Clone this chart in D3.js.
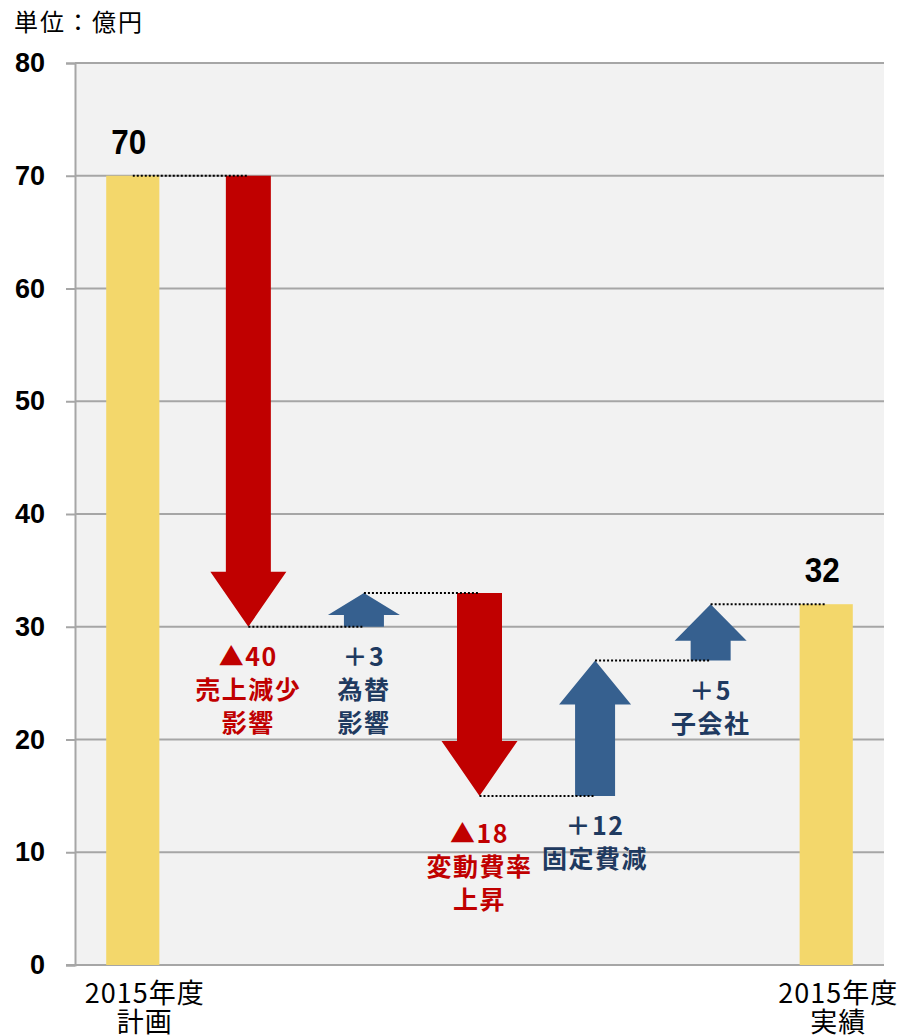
<!DOCTYPE html>
<html><head><meta charset="utf-8">
<script src="https://cdn.jsdelivr.net/npm/d3@7/dist/d3.min.js"></script>
<style>body{margin:0;background:#fff}</style>
</head><body>
<svg id="c" width="900" height="1036"></svg>
<script>
const categories = ["plan", "sales", "fx", "varcost", "fixcost", "subsid", "actual"];
const axisLabels = [["2015年度","計画"], [], [], [], [], [], ["2015年度","実績"]];
const startValue = 70;
const deltas = [null, -40, 3, -18, 12, 5, null];
const endValue = 32;
const deltaLabels = [[], ["▲40","売上減少","影響"], ["＋3","為替","影響"], ["▲18","変動費率","上昇"], ["＋12","固定費減"], ["＋5","子会社"], []];
const yTicks = [0,10,20,30,40,50,60,70,80];
const unitLabel = "単位：億円";

const svg = d3.select("#c");
const L = 75, R = 884, T = 63, B = 965;
const x = d3.scaleBand().domain(categories).range([L, R]);
const y = d3.scaleLinear().domain([0, 80]).range([B, T]);
const jp = "'Noto Sans CJK JP','Noto Sans',sans-serif";
const num = "'Liberation Sans',Arial,sans-serif";

svg.append("rect").attr("x", L).attr("y", T).attr("width", R - L).attr("height", B - T).attr("fill", "#f2f2f2");

// grid
svg.append("g").selectAll("line").data(yTicks.filter(d => d > 0)).join("line")
  .attr("x1", L).attr("x2", R).attr("y1", d => y(d)).attr("y2", d => y(d))
  .attr("stroke", "#a6a6a6").attr("stroke-width", 2);

// y axis
const ya = svg.append("g").attr("transform", `translate(${L},0)`)
  .call(d3.axisLeft(y).tickValues(yTicks).tickSize(9).tickPadding(21));
ya.select(".domain").attr("stroke", "#a6a6a6").attr("stroke-width", 2);
ya.selectAll(".tick line").attr("stroke", "#a6a6a6").attr("stroke-width", 2);
ya.selectAll("text").attr("font-family", num).attr("font-weight", "bold").attr("font-size", 27).attr("fill", "#000");
// bottom axis line
svg.append("line").attr("x1", L - 9).attr("x2", R).attr("y1", B).attr("y2", B).attr("stroke", "#a6a6a6").attr("stroke-width", 2);

// compute levels
const levels = [];
let cur = startValue;
categories.forEach((c, i) => {
  if (i === 0) { levels.push({c, from: 0, to: startValue, type: "bar"}); }
  else if (i === categories.length - 1) { levels.push({c, from: 0, to: endValue, type: "bar"}); }
  else { levels.push({c, from: cur, to: cur + deltas[i], type: "arrow", d: deltas[i]}); cur += deltas[i]; }
});

const barW = x.bandwidth() * 0.46;
levels.filter(d => d.type === "bar").forEach(d => {
  const cx = x(d.c) + x.bandwidth() / 2;
  svg.append("rect").attr("x", cx - barW / 2).attr("y", y(d.to)).attr("width", barW).attr("height", y(0) - y(d.to)).attr("fill", "#f3d76b");
  const tx = cx - 4;
  svg.append("text").attr("x", tx).attr("y", y(d.to) - 22).attr("text-anchor", "middle")
    .attr("font-family", num).attr("font-weight", "bold").attr("font-size", 35).attr("fill", "#000")
    .attr("transform", `translate(${tx},0) scale(0.9,1) translate(${-tx},0)`)
    .text(d.to);
});

// arrows
levels.filter(d => d.type === "arrow").forEach(d => {
  const cx = x(d.c) + x.bandwidth() / 2;
  const neg = d.d < 0;
  const color = neg ? "#c00000" : "#36608f";
  const y0 = y(d.from), y1 = y(d.to);
  const len = Math.abs(y1 - y0);
  const head = neg ? Math.min(55, len * 0.65) : Math.min(44, len * 0.65);
  const hw = (neg ? 76 : 72) / 2, sw = (neg ? 45 : 40) / 2;
  const dir = neg ? 1 : -1;
  const hb = y1 - dir * head;
  const pts = [[cx - sw, y0], [cx + sw, y0], [cx + sw, hb], [cx + hw, hb], [cx, y1], [cx - hw, hb], [cx - sw, hb]];
  svg.append("path").attr("d", d3.line()(pts) + "Z").attr("fill", color);
});

// connectors
for (let i = 0; i < levels.length - 1; i++) {
  const lv = levels[i].to;
  const x1 = x(levels[i].c) + x.bandwidth() / 2, x2 = x(levels[i + 1].c) + x.bandwidth() / 2;
  svg.append("line").attr("x1", x1).attr("x2", x2).attr("y1", y(lv)).attr("y2", y(lv))
    .attr("stroke", "#000").attr("stroke-width", 2).attr("stroke-dasharray", "2,2");
}

// delta labels
levels.forEach((d, i) => {
  if (d.type !== "arrow") return;
  const cx = x(d.c) + x.bandwidth() / 2;
  const low = Math.min(d.from, d.to);
  const color = d.d < 0 ? "#c00000" : "#1f3a60";
  const base = y(low) + (d.d < 0 && low < 20 ? 47 : 39);
  deltaLabels[i].forEach((t, k) => {
    svg.append("text").attr("x", cx).attr("y", base + k * 33).attr("text-anchor", "middle")
      .attr("font-family", jp).attr("font-weight", "bold").attr("font-size", 25).attr("letter-spacing", 1.5)
      .attr("fill", color).text(t);
  });
});

// x labels
levels.forEach((d, i) => {
  const cx = x(d.c) + x.bandwidth() / 2 + 12;
  axisLabels[i].forEach((t, k) => {
    svg.append("text").attr("x", cx).attr("y", 1003 + k * 29).attr("text-anchor", "middle")
      .attr("font-family", jp).attr("font-size", 27).attr("letter-spacing", 1).attr("fill", "#000").text(t);
  });
});

svg.append("text").attr("x", 14).attr("y", 31).attr("font-family", jp).attr("font-size", 24).attr("letter-spacing", 2).attr("fill", "#000").text(unitLabel);
</script>
</body></html>
